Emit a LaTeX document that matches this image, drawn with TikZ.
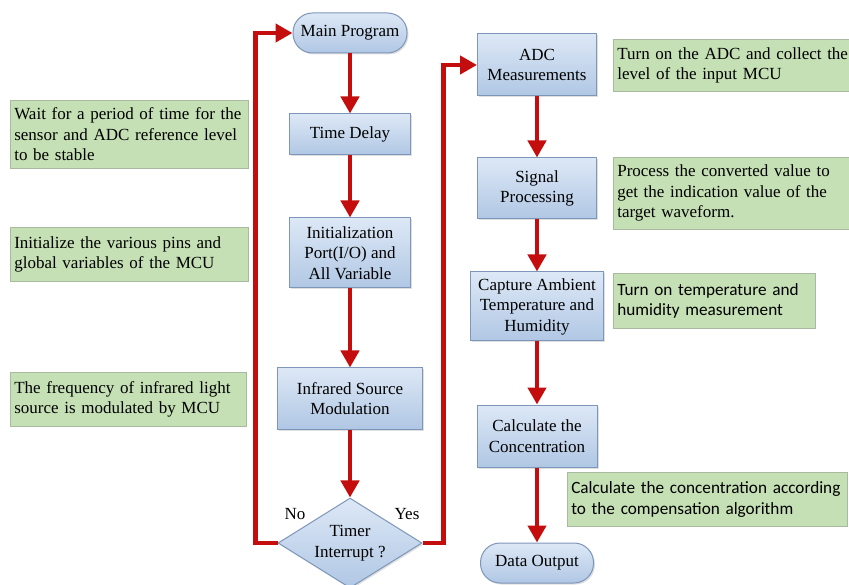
\documentclass[tikz,border=0pt]{standalone}
\usepackage{fontspec}
\setmainfont{Liberation Serif}
\newfontfamily\notefont{Carlito}
\usetikzlibrary{arrows.meta,shapes.geometric,shadows}
\definecolor{flowred}{RGB}{196,14,14}
\definecolor{boxtop}{RGB}{221,232,246}
\definecolor{boxbottom}{RGB}{176,199,228}
\definecolor{boxline}{RGB}{125,150,185}
\definecolor{notegreen}{RGB}{197,224,180}
\definecolor{noteline}{RGB}{170,186,160}
\begin{document}
\begin{tikzpicture}[
		x=1pt, y=-1pt,
		every node/.style={font=\fontsize{17}{20.5}\selectfont, inner sep=0pt, align=center},
		procbox/.style={rectangle, draw=boxline, line width=1pt, top color=boxtop, bottom color=boxbottom, drop shadow={shadow xshift=1.5pt, shadow yshift=-1.5pt, opacity=0.25}},
		termbox/.style={procbox, rounded corners=19.5pt, minimum width=114pt, minimum height=40pt},
		decbox/.style={procbox, diamond, aspect=1.6, minimum width=144pt, minimum height=90pt},
		notebox/.style={draw=noteline, line width=0.6pt, fill=notegreen, anchor=north west, align=left, inner xsep=4pt},
		sansnote/.style={font=\notefont\fontsize{17.2}{20.5}\selectfont},
		flow/.style={draw=flowred, line width=4.5pt, -{Triangle[width=18pt,length=17pt]}}
		]
		
		\useasboundingbox (0,0) rectangle (849,585);
		\clip (0,0) rectangle (849,585);
		
		\node[termbox] (main) at (350,33) {Main Program};
		\node[procbox, minimum width=121pt, minimum height=41pt] (delay) at (350,134.5) {Time Delay};
		\node[procbox, minimum width=121pt, minimum height=70pt] (init) at (350,253) {Initialization\\Port(I/O) and\\All Variable};
		\node[procbox, minimum width=145pt, minimum height=61pt] (infrared) at (350,398.5) {Infrared Source\\Modulation};
		\node[decbox] (timer) at (350,543) {Timer\\Interrupt ?};
		
		\node[procbox, minimum width=119pt, minimum height=62pt] (adc) at (537,65) {ADC\\Measurements};
		\node[procbox, minimum width=119pt, minimum height=61pt] (signal) at (537,188.5) {Signal\\Processing};
		\node[procbox, minimum width=133pt, minimum height=69pt] (capture) at (537,306.5) {Capture Ambient\\Temperature and\\Humidity};
		\node[procbox, minimum width=120pt, minimum height=62pt] (calc) at (537,436) {Calculate the\\Concentration};
		\node[termbox, minimum width=113pt] (output) at (537,563) {Data Output};
		
		\node (no) at (295,514) {No};
		\node (yes) at (407,514) {Yes};
		
		\node[notebox, text width=230pt, minimum height=68pt] (waitnote) at (10,100) {\mbox{Wait for a period of time for the}\\sensor and ADC reference level\\to be stable};
		\node[notebox, text width=230pt, minimum height=54pt] (initnote) at (10,227) {Initialize the various pins and\\global variables of the MCU};
		\node[notebox, text width=228pt, minimum height=54pt] (irnote) at (10,372) {The frequency of infrared light\\source is modulated by MCU};
		\node[notebox, text width=252pt, minimum height=52pt] (adcnote) at (613,39) {\mbox{Turn on the ADC and collect the}\\level of the input MCU};
		\node[notebox, text width=252pt, minimum height=72pt] (signalnote) at (613,157) {Process the converted value to\\get the indication value of the\\target waveform.};
		\node[notebox, sansnote, text width=194pt, minimum height=55pt] (capturenote) at (613,273) {Turn on temperature and\\humidity measurement};
		\node[notebox, sansnote, text width=272pt, minimum height=54pt] (calcnote) at (567,472) {\mbox{Calculate the concentration according}\\to the compensation algorithm};
		
		\draw[flow] (main) -- (delay);
		\draw[flow] (delay) -- (init);
		\draw[flow] (init) -- (infrared);
		\draw[flow] (infrared) -- (timer);
		\draw[flow] (timer.west) -- ++(-22,0) |- (main.west);
		\draw[flow] (timer.east) -- ++(21,0) |- (adc.west);
		\draw[flow] (adc) -- (signal);
		\draw[flow] (signal) -- (capture);
		\draw[flow] (capture) -- (calc);
		\draw[flow] (calc) -- (output);
		
	\end{tikzpicture}
\end{document}
